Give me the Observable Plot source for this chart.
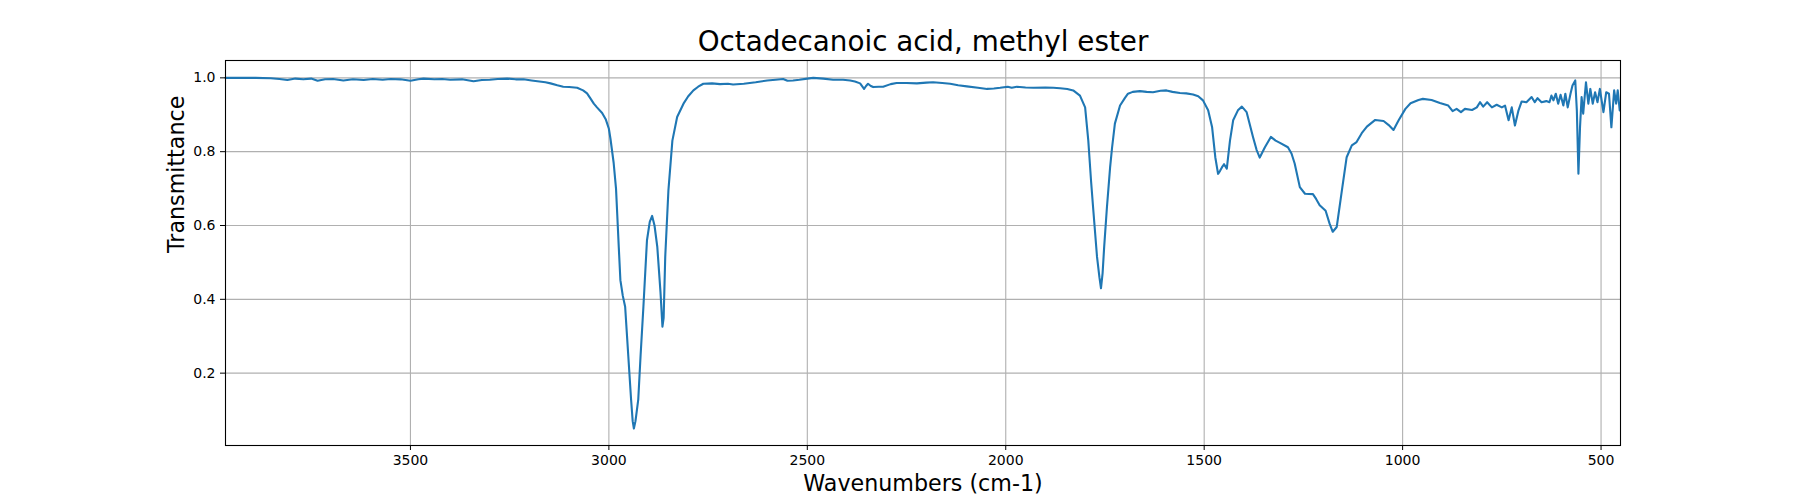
<!DOCTYPE html>
<html>
<head>
<meta charset="utf-8">
<script src="https://cdn.jsdelivr.net/npm/d3@7"></script>
<script src="https://cdn.jsdelivr.net/npm/@observablehq/plot@0.6"></script>
<style>
  html, body { margin: 0; padding: 0; background: #fff; }
  #chart svg { display: block; }
</style>
</head>
<body>
<div id="chart"></div>
<script>
const title = "Octadecanoic acid, methyl ester";
const xLabel = "Wavenumbers (cm-1)";
const yLabel = "Transmittance";
const xTicks = [3500, 3000, 2500, 2000, 1500, 1000, 500];
const yTicks = [0.2, 0.4, 0.6, 0.8, 1.0];

const wavenumbers = [
  3966, 3930, 3890, 3852, 3830, 3810, 3790, 3770, 3750, 3734, 3715, 3695, 3669, 3645, 3618, 3595,
  3570, 3550, 3525, 3500, 3480, 3467, 3440, 3420, 3400, 3370, 3341, 3320, 3300, 3280, 3256, 3235,
  3215, 3195, 3180, 3160, 3147, 3130, 3115, 3100, 3080, 3065, 3055, 3047, 3038, 3030, 3017, 3008,
  3000, 2996, 2988, 2982, 2979, 2975, 2971, 2965, 2959, 2951, 2944, 2940, 2937, 2933, 2926, 2920,
  2913, 2904, 2897, 2891, 2885, 2878, 2870, 2865, 2862, 2858, 2850, 2840, 2828, 2812, 2800, 2787,
  2775, 2762, 2740, 2720, 2700, 2687, 2660, 2630, 2601, 2580, 2561, 2550, 2536, 2520, 2500, 2485,
  2460, 2435, 2410, 2392, 2380, 2367, 2357, 2352, 2347, 2340, 2334, 2320, 2309, 2290, 2275, 2250,
  2224, 2200, 2183, 2160, 2140, 2120, 2098, 2070, 2047, 2030, 2014, 1995, 1985, 1972, 1950, 1930,
  1900, 1880, 1863, 1845, 1830, 1813, 1800, 1792, 1785, 1780, 1770, 1764, 1760, 1756, 1752, 1745,
  1737, 1732, 1725, 1712, 1700, 1692, 1680, 1662, 1645, 1629, 1610, 1595, 1580, 1561, 1545, 1528,
  1515, 1503, 1490, 1480, 1472, 1465, 1460, 1455, 1450, 1443, 1435, 1427, 1415, 1405, 1393, 1377,
  1368, 1360, 1347, 1332, 1320, 1309, 1289, 1280, 1272, 1259, 1246, 1226, 1218, 1209, 1194, 1184,
  1176, 1166, 1153, 1141, 1128, 1116, 1103, 1090, 1069, 1048, 1035, 1023, 1010, 993, 980, 960,
  949, 927, 906, 885, 874, 864, 853, 843, 825, 813, 805, 797, 787, 775, 763, 750,
  742, 733, 725, 717, 708, 700, 688, 675, 667, 660, 650, 638, 630, 625, 620, 614,
  608, 602, 595, 590, 584, 577, 572, 565, 561, 557, 553, 549, 545, 538, 532, 527,
  521, 515, 509, 503, 494, 487, 480, 474, 467, 462, 458, 453
];

const transmittance = [
  1.000, 1.000, 1.000, 0.999, 0.997, 0.994, 0.998, 0.996, 0.998, 0.992, 0.996, 0.997, 0.993, 0.996, 0.994, 0.997,
  0.995, 0.997, 0.996, 0.992, 0.996, 0.998, 0.996, 0.997, 0.995, 0.996, 0.991, 0.994, 0.995, 0.997, 0.998, 0.996,
  0.996, 0.993, 0.991, 0.988, 0.985, 0.980, 0.976, 0.975, 0.973, 0.966, 0.958, 0.945, 0.930, 0.920, 0.905, 0.888,
  0.862, 0.835, 0.770, 0.700, 0.632, 0.540, 0.452, 0.410, 0.380, 0.245, 0.128, 0.070, 0.050, 0.070, 0.128, 0.250,
  0.380, 0.560, 0.610, 0.626, 0.600, 0.542, 0.420, 0.326, 0.350, 0.515, 0.695, 0.830, 0.894, 0.930, 0.950, 0.966,
  0.976, 0.984, 0.985, 0.983, 0.984, 0.982, 0.984, 0.988, 0.993, 0.995, 0.997, 0.992, 0.993, 0.995, 0.998, 1.000,
  0.998, 0.995, 0.995, 0.993, 0.990, 0.985, 0.970, 0.978, 0.984, 0.978, 0.975, 0.976, 0.976, 0.983, 0.986, 0.986,
  0.985, 0.987, 0.988, 0.986, 0.984, 0.980, 0.977, 0.973, 0.970, 0.971, 0.973, 0.976, 0.973, 0.976, 0.974, 0.973,
  0.974, 0.973, 0.972, 0.970, 0.966, 0.952, 0.920, 0.830, 0.720, 0.650, 0.515, 0.460, 0.430, 0.470, 0.542, 0.650,
  0.758, 0.812, 0.876, 0.925, 0.945, 0.957, 0.962, 0.964, 0.962, 0.961, 0.965, 0.966, 0.962, 0.959, 0.958, 0.955,
  0.950, 0.939, 0.912, 0.866, 0.785, 0.740, 0.748, 0.758, 0.766, 0.754, 0.830, 0.885, 0.912, 0.922, 0.907, 0.840,
  0.805, 0.784, 0.812, 0.840, 0.830, 0.824, 0.812, 0.795, 0.768, 0.704, 0.686, 0.685, 0.672, 0.655, 0.640, 0.605,
  0.583, 0.596, 0.695, 0.785, 0.817, 0.826, 0.850, 0.868, 0.886, 0.883, 0.872, 0.859, 0.885, 0.916, 0.931, 0.940,
  0.943, 0.940, 0.932, 0.925, 0.910, 0.916, 0.907, 0.916, 0.913, 0.920, 0.934, 0.922, 0.934, 0.920, 0.927, 0.920,
  0.925, 0.885, 0.920, 0.871, 0.912, 0.936, 0.934, 0.948, 0.934, 0.945, 0.934, 0.937, 0.934, 0.952, 0.939, 0.957,
  0.930, 0.954, 0.925, 0.957, 0.920, 0.957, 0.979, 0.993, 0.912, 0.740, 0.866, 0.948, 0.903, 0.988, 0.930, 0.970,
  0.930, 0.961, 0.934, 0.970, 0.907, 0.961, 0.957, 0.866, 0.966, 0.930, 0.966, 0.912
];

const data = wavenumbers.map((w, i) => ({wn: w, t: transmittance[i]}));

const font = "DejaVu Sans, sans-serif";

const chart = Plot.plot({
  width: 1800,
  height: 500,
  marginLeft: 225,
  marginRight: 180,
  marginTop: 60,
  marginBottom: 55,
  style: {fontFamily: font, fontSize: "14px", color: "#000", background: "#fff"},
  x: {domain: [3966, 451], ticks: xTicks, label: null},
  y: {domain: [0.004, 1.047], ticks: yTicks, label: null},
  marks: [
    Plot.gridX(xTicks, {stroke: "#b0b0b0", strokeOpacity: 1, strokeWidth: 1.1}),
    Plot.gridY(yTicks, {stroke: "#b0b0b0", strokeOpacity: 1, strokeWidth: 1.1}),
    Plot.line(data, {x: "wn", y: "t", stroke: "#1f77b4", strokeWidth: 2.1}),
    Plot.frame({stroke: "#000", strokeWidth: 1.1}),
    Plot.axisX({ticks: xTicks, tickSize: 5, tickPadding: 5, tickFormat: d => String(d), label: null, fontSize: 14}),
    Plot.axisY({ticks: yTicks, tickSize: 5, tickPadding: 5, tickFormat: d3.format(".1f"), label: null, fontSize: 14}),
    Plot.text([title], {frameAnchor: "top", dy: -18, lineAnchor: "middle", fontSize: 27.8, fill: "#000"}),
    Plot.text([xLabel], {frameAnchor: "bottom", dy: 38, lineAnchor: "middle", fontSize: 22.2, fill: "#000"}),
    Plot.text([yLabel], {frameAnchor: "left", dx: -49, rotate: -90, lineAnchor: "middle", fontSize: 22.2, fill: "#000"})
  ]
});

document.getElementById("chart").appendChild(chart);
</script>
</body>
</html>
